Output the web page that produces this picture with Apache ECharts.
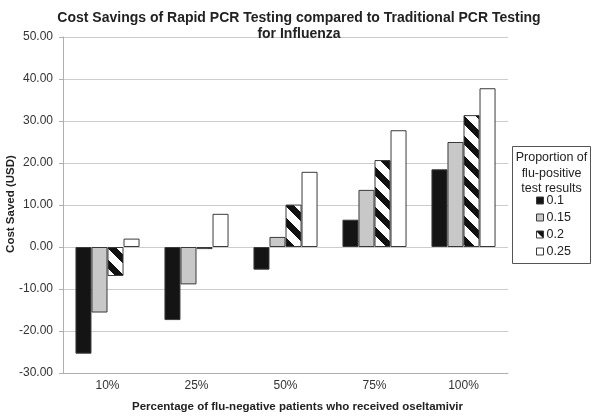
<!DOCTYPE html>
<html><head><meta charset="utf-8">
<script src="https://cdn.jsdelivr.net/npm/echarts@6/dist/echarts.min.js"></script>
<style>html,body{margin:0;padding:0;background:#fff}#c{width:600px;height:419px}</style>
</head><body><div id="c"></div>
<script>
const categories = ['10%', '25%', '50%', '75%', '100%'];
const seriesNames = ['0.1', '0.15', '0.2', '0.25'];
const s01 = [-25.4, -17.4, -5.4, 6.5, 18.5];
const s015 = [-15.6, -8.9, 2.4, 13.6, 25.0];
const s02 = [-6.9, -0.5, 10.1, 20.7, 31.4];
const s025 = [2.0, 7.9, 17.9, 27.8, 37.8];
const yTicks = [-30, -20, -10, 0, 10, 20, 30, 40, 50];

// hatch pattern tile
const tile = document.createElement('canvas');
tile.width = 20; tile.height = 20;
const tctx = tile.getContext('2d');
const img = tctx.createImageData(20, 20);
for (let y = 0; y < 20; y++) for (let x = 0; x < 20; x++) {
  const v = (((x - y) % 20) + 20) % 20;
  const black = v < 9;
  const i = (y * 20 + x) * 4;
  const c = black ? 17 : 255;
  img.data[i] = c; img.data[i+1] = c; img.data[i+2] = c; img.data[i+3] = 255;
}
tctx.putImageData(img, 0, 0);

const chart = echarts.init(document.getElementById('c'), null, {renderer: 'canvas'});
const fills = ['#141414', '#c8c8c8', {image: tile, repeat: 'repeat'}, '#ffffff'];
const datas = [s01, s015, s02, s025];
const series = seriesNames.map((n, k) => ({
  name: n, type: 'bar', data: datas[k], barGap: '0%', barCategoryGap: '28%',
  itemStyle: {color: fills[k], borderColor: '#3a3a3a', borderWidth: 1},
  animation: false
}));
chart.setOption({
  animation: false,
  backgroundColor: '#ffffff',
  textStyle: {fontFamily: 'Liberation Sans, Arial, sans-serif'},
  title: {
    text: 'Cost Savings of Rapid PCR Testing compared to Traditional PCR Testing\nfor Influenza',
    left: 299, top: 10, textAlign: 'center', padding: 0,
    textStyle: {fontSize: 14, fontWeight: 'bold', color: '#222', lineHeight: 16, fontFamily: 'Liberation Sans, Arial, sans-serif'}
  },
  grid: {left: 63, right: 92, top: 37, bottom: 46, containLabel: false, outerBoundsMode: 'none'},
  xAxis: {
    type: 'category', data: categories,
    axisLine: {onZero: false, lineStyle: {color: '#b0b0b0'}},
    axisTick: {show: false},
    axisLabel: {color: '#333', fontSize: 12, margin: 7},
    name: 'Percentage of flu-negative patients who received oseltamivir',
    nameLocation: 'middle', nameGap: 28,
    nameTextStyle: {fontSize: 11.5, fontWeight: 'bold', color: '#222', padding: [0, 0, 0, 24]}
  },
  yAxis: {
    type: 'value', min: -30, max: 50, interval: 10,
    axisLine: {show: true, lineStyle: {color: '#b0b0b0'}},
    axisTick: {show: true, length: 4, lineStyle: {color: '#b0b0b0'}},
    splitLine: {lineStyle: {color: '#cccccc'}},
    axisLabel: {color: '#333', fontSize: 12, margin: 10, formatter: v => yTicks.includes(v) ? v.toFixed(2) : ''}
  },
  legend: {
    orient: 'vertical', left: 536, top: 194, padding: 0, itemWidth: 7, itemHeight: 7, itemGap: 4,
    icon: 'rect',
    data: seriesNames,
    textStyle: {fontSize: 12.5, color: '#222', padding: [0, 0, 0, -2]},
    itemStyle: {borderColor: '#3a3a3a', borderWidth: 1}
  },
  graphic: [
    {type: 'rect', shape: {x: 512.5, y: 146.5, width: 78, height: 117},
     style: {fill: 'none', stroke: '#555', lineWidth: 1}},
    {type: 'text', x: 551.5, y: 150,
     style: {text: 'Proportion of\nflu-positive\ntest results', textAlign: 'center', fontSize: 12.5,
       lineHeight: 15.5, fill: '#222', fontFamily: 'Liberation Sans, Arial, sans-serif'}},
    {type: 'text', x: 11, y: 204, rotation: Math.PI / 2,
     style: {text: 'Cost Saved (USD)', textAlign: 'center', textVerticalAlign: 'middle', fontSize: 11.5,
       fontWeight: 'bold', fill: '#222', fontFamily: 'Liberation Sans, Arial, sans-serif'}}
  ],
  series: series
});
</script></body></html>
